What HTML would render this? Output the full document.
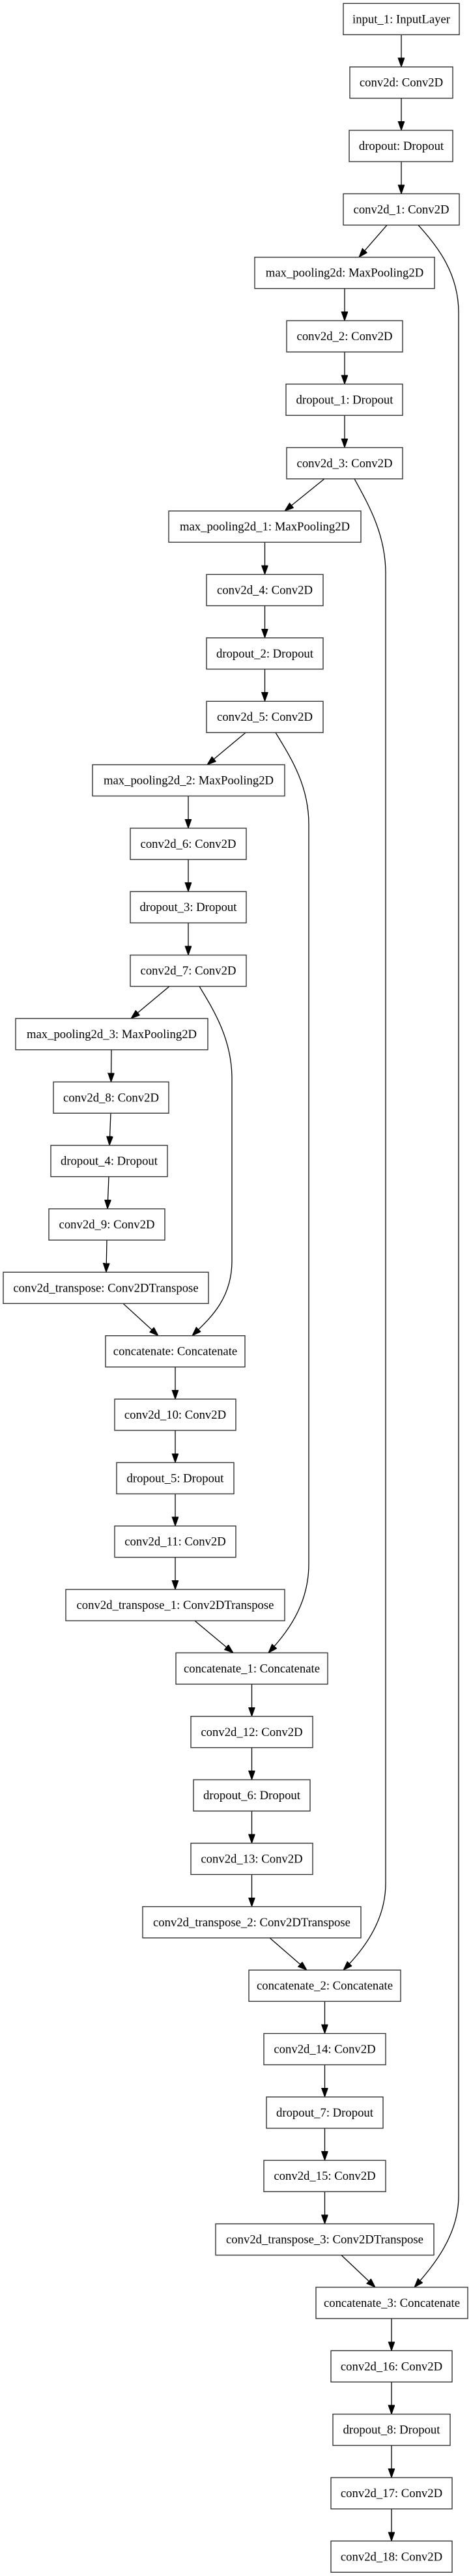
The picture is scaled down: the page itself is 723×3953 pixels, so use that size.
<!DOCTYPE html>
<html><head><meta charset="utf-8"><style>
html,body{margin:0;padding:0;background:#fff;}
svg{display:block;}
text{font-family:"Liberation Serif","Times New Roman",serif;font-size:18.7px;fill:#000;text-anchor:middle;}
rect{fill:#fff;stroke:#333;stroke-width:1.4;}
.e{fill:none;stroke:#000;stroke-width:1.3;marker-end:url(#a);}
</style></head><body>
<svg width="723" height="3953" viewBox="0 0 723 3953" xmlns="http://www.w3.org/2000/svg">
<defs><marker id="a" markerUnits="userSpaceOnUse" markerWidth="16" markerHeight="12" refX="14" refY="5" orient="auto"><path d="M0,0 L14,5 L0,10 z" fill="#000" stroke="#000" stroke-width="1"/></marker></defs>

<!-- straight edges -->
<line class="e" x1="616" y1="53.3" x2="616" y2="102.7"/>
<line class="e" x1="616" y1="150.7" x2="616" y2="200"/>
<line class="e" x1="616" y1="248" x2="616" y2="297.4"/>
<line class="e" x1="594" y1="345.4" x2="551" y2="394.7"/>
<line class="e" x1="529" y1="442.7" x2="529" y2="492.1"/>
<line class="e" x1="529" y1="540.1" x2="529" y2="589.4"/>
<line class="e" x1="529" y1="637.4" x2="529" y2="686.8"/>
<line class="e" x1="498" y1="734.8" x2="437" y2="784.1"/>
<line class="e" x1="406.5" y1="832.1" x2="406.5" y2="881.5"/>
<line class="e" x1="406.5" y1="929.5" x2="406.5" y2="978.8"/>
<line class="e" x1="406.5" y1="1026.8" x2="406.5" y2="1076.2"/>
<line class="e" x1="377" y1="1124.2" x2="318" y2="1173.5"/>
<line class="e" x1="289" y1="1221.5" x2="289" y2="1270.9"/>
<line class="e" x1="289" y1="1318.9" x2="289" y2="1368.2"/>
<line class="e" x1="289" y1="1416.2" x2="289" y2="1465.6"/>
<line class="e" x1="260" y1="1513.6" x2="201" y2="1562.9"/>
<line class="e" x1="171" y1="1610.9" x2="170.5" y2="1660.3"/>
<line class="e" x1="170" y1="1708.3" x2="168" y2="1757.6"/>
<line class="e" x1="167" y1="1805.6" x2="165" y2="1855"/>
<line class="e" x1="164" y1="1903" x2="163" y2="1952.3"/>
<line class="e" x1="189" y1="2000.3" x2="243" y2="2049.7"/>
<line class="e" x1="269" y1="2097.7" x2="269" y2="2147"/>
<line class="e" x1="269" y1="2195" x2="269" y2="2244.4"/>
<line class="e" x1="269" y1="2292.4" x2="269" y2="2341.7"/>
<line class="e" x1="269" y1="2389.7" x2="269" y2="2439.1"/>
<line class="e" x1="299" y1="2487.1" x2="358" y2="2536.4"/>
<line class="e" x1="386.5" y1="2584.4" x2="386.5" y2="2633.8"/>
<line class="e" x1="386.5" y1="2681.8" x2="386.5" y2="2731.1"/>
<line class="e" x1="386.5" y1="2779.1" x2="386.5" y2="2828.5"/>
<line class="e" x1="386.5" y1="2876.5" x2="386.5" y2="2925.8"/>
<line class="e" x1="414" y1="2973.8" x2="471" y2="3023.2"/>
<line class="e" x1="498.5" y1="3071.2" x2="498.5" y2="3120.5"/>
<line class="e" x1="498.5" y1="3168.5" x2="498.5" y2="3217.9"/>
<line class="e" x1="498.5" y1="3265.9" x2="498.5" y2="3315.2"/>
<line class="e" x1="498.5" y1="3363.2" x2="498.5" y2="3412.6"/>
<line class="e" x1="524" y1="3460.6" x2="576" y2="3509.9"/>
<line class="e" x1="601" y1="3557.9" x2="601" y2="3607.3"/>
<line class="e" x1="601" y1="3655.3" x2="601" y2="3704.6"/>
<line class="e" x1="601" y1="3752.6" x2="601" y2="3802"/>
<line class="e" x1="601" y1="3850" x2="601" y2="3899.3"/>

<!-- skip connections -->
<path class="e" d="M642,345.4 C672,378 704,420 704,480 L704,3370 C704,3430 665,3478 636,3509.9"/>
<path class="e" d="M544,734.8 C566,775 592,820 592,880 L592,2890 C592,2950 555,2995 527,3023.2"/>
<path class="e" d="M423,1124.2 C446,1162 474,1205 474,1265 L474,2400 C474,2465 438,2508 412,2536.4"/>
<path class="e" d="M306,1513.6 C328,1550 356,1595 356,1655 L356,1935 C356,1995 320,2025 295,2049.7"/>

<!-- nodes -->
<g transform="translate(0,5.3)"><rect x="527" y="0" width="178" height="48"/><text x="616" y="30">input_1: InputLayer</text></g>
<g transform="translate(0,102.7)"><rect x="537" y="0" width="158" height="48"/><text x="616" y="30">conv2d: Conv2D</text></g>
<g transform="translate(0,200)"><rect x="536" y="0" width="159" height="48"/><text x="616" y="30">dropout: Dropout</text></g>
<g transform="translate(0,297.4)"><rect x="527" y="0" width="178" height="48"/><text x="616" y="30">conv2d_1: Conv2D</text></g>
<g transform="translate(0,394.7)"><rect x="391" y="0" width="276" height="48"/><text x="529" y="30">max_pooling2d: MaxPooling2D</text></g>
<g transform="translate(0,492.1)"><rect x="440" y="0" width="178" height="48"/><text x="529" y="30">conv2d_2: Conv2D</text></g>
<g transform="translate(0,589.4)"><rect x="439" y="0" width="179" height="48"/><text x="529" y="30">dropout_1: Dropout</text></g>
<g transform="translate(0,686.8)"><rect x="440" y="0" width="178" height="48"/><text x="529" y="30">conv2d_3: Conv2D</text></g>
<g transform="translate(0,784.1)"><rect x="259" y="0" width="295" height="48"/><text x="406.5" y="30">max_pooling2d_1: MaxPooling2D</text></g>
<g transform="translate(0,881.5)"><rect x="317" y="0" width="179" height="48"/><text x="406.5" y="30">conv2d_4: Conv2D</text></g>
<g transform="translate(0,978.8)"><rect x="317" y="0" width="179" height="48"/><text x="406.5" y="30">dropout_2: Dropout</text></g>
<g transform="translate(0,1076.2)"><rect x="317" y="0" width="179" height="48"/><text x="406.5" y="30">conv2d_5: Conv2D</text></g>
<g transform="translate(0,1173.5)"><rect x="142" y="0" width="295" height="48"/><text x="289.5" y="30">max_pooling2d_2: MaxPooling2D</text></g>
<g transform="translate(0,1270.9)"><rect x="200" y="0" width="178" height="48"/><text x="289" y="30">conv2d_6: Conv2D</text></g>
<g transform="translate(0,1368.2)"><rect x="200" y="0" width="178" height="48"/><text x="289" y="30">dropout_3: Dropout</text></g>
<g transform="translate(0,1465.6)"><rect x="200" y="0" width="178" height="48"/><text x="289" y="30">conv2d_7: Conv2D</text></g>
<g transform="translate(0,1562.9)"><rect x="24" y="0" width="295" height="48"/><text x="171.5" y="30">max_pooling2d_3: MaxPooling2D</text></g>
<g transform="translate(0,1660.3)"><rect x="82" y="0" width="177" height="48"/><text x="170.5" y="30">conv2d_8: Conv2D</text></g>
<g transform="translate(0,1757.6)"><rect x="78" y="0" width="179" height="48"/><text x="167.5" y="30">dropout_4: Dropout</text></g>
<g transform="translate(0,1855)"><rect x="75" y="0" width="178" height="48"/><text x="164" y="30">conv2d_9: Conv2D</text></g>
<g transform="translate(0,1952.3)"><rect x="5" y="0" width="315" height="48"/><text x="162.5" y="30">conv2d_transpose: Conv2DTranspose</text></g>
<g transform="translate(0,2049.7)"><rect x="162" y="0" width="214" height="48"/><text x="269" y="30">concatenate: Concatenate</text></g>
<g transform="translate(0,2147)"><rect x="176" y="0" width="186" height="48"/><text x="269" y="30">conv2d_10: Conv2D</text></g>
<g transform="translate(0,2244.4)"><rect x="179" y="0" width="180" height="48"/><text x="269" y="30">dropout_5: Dropout</text></g>
<g transform="translate(0,2341.7)"><rect x="176" y="0" width="186" height="48"/><text x="269" y="30">conv2d_11: Conv2D</text></g>
<g transform="translate(0,2439.1)"><rect x="101" y="0" width="336" height="48"/><text x="269" y="30">conv2d_transpose_1: Conv2DTranspose</text></g>
<g transform="translate(0,2536.4)"><rect x="270" y="0" width="233" height="48"/><text x="386.5" y="30">concatenate_1: Concatenate</text></g>
<g transform="translate(0,2633.8)"><rect x="293" y="0" width="187" height="48"/><text x="386.5" y="30">conv2d_12: Conv2D</text></g>
<g transform="translate(0,2731.1)"><rect x="297" y="0" width="179" height="48"/><text x="386.5" y="30">dropout_6: Dropout</text></g>
<g transform="translate(0,2828.5)"><rect x="293" y="0" width="187" height="48"/><text x="386.5" y="30">conv2d_13: Conv2D</text></g>
<g transform="translate(0,2925.8)"><rect x="219" y="0" width="335" height="48"/><text x="386.5" y="30">conv2d_transpose_2: Conv2DTranspose</text></g>
<g transform="translate(0,3023.2)"><rect x="382" y="0" width="233" height="48"/><text x="498.5" y="30">concatenate_2: Concatenate</text></g>
<g transform="translate(0,3120.5)"><rect x="405" y="0" width="187" height="48"/><text x="498.5" y="30">conv2d_14: Conv2D</text></g>
<g transform="translate(0,3217.9)"><rect x="409" y="0" width="179" height="48"/><text x="498.5" y="30">dropout_7: Dropout</text></g>
<g transform="translate(0,3315.2)"><rect x="405" y="0" width="187" height="48"/><text x="498.5" y="30">conv2d_15: Conv2D</text></g>
<g transform="translate(0,3412.6)"><rect x="331" y="0" width="335" height="48"/><text x="498.5" y="30">conv2d_transpose_3: Conv2DTranspose</text></g>
<g transform="translate(0,3509.9)"><rect x="485" y="0" width="233" height="48"/><text x="601.5" y="30">concatenate_3: Concatenate</text></g>
<g transform="translate(0,3607.3)"><rect x="508" y="0" width="186" height="48"/><text x="601" y="30">conv2d_16: Conv2D</text></g>
<g transform="translate(0,3704.6)"><rect x="511" y="0" width="180" height="48"/><text x="601" y="30">dropout_8: Dropout</text></g>
<g transform="translate(0,3802)"><rect x="508" y="0" width="186" height="48"/><text x="601" y="30">conv2d_17: Conv2D</text></g>
<g transform="translate(0,3899.3)"><rect x="508" y="0" width="186" height="48"/><text x="601" y="30">conv2d_18: Conv2D</text></g>
</svg>
</body></html>
